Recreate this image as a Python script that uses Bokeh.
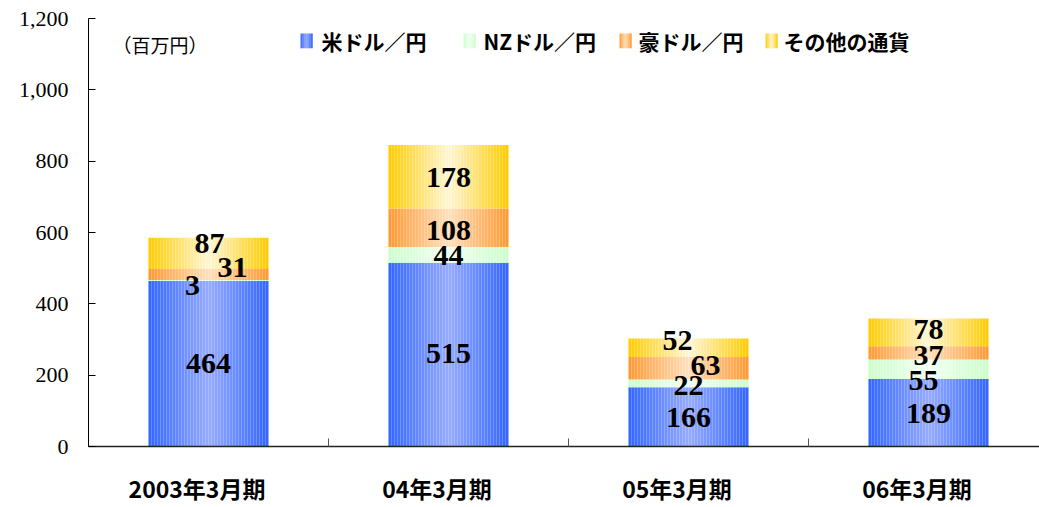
import numpy as np
from bokeh.plotting import figure
from bokeh.models import FixedTicker, NumeralTickFormatter, Range1d, ColumnDataSource
from bokeh.core.properties import value
from bokeh.embed import file_html
from bokeh.resources import INLINE

# ---------------- data ----------------
periods = ["2003年3月期", "04年3月期", "05年3月期", "06年3月期"]
series_names = ["米ドル／円", "NZドル／円", "豪ドル／円", "その他の通貨"]
usd = [464, 515, 166, 189]
nzd = [3, 44, 22, 55]
aud = [31, 108, 63, 37]
other = [87, 178, 52, 78]
unit_label = "（百万円）"
y_ticks = [0, 200, 400, 600, 800, 1000, 1200]

# ---------------- styles ----------------
edge_colors = [(51, 102, 255), (204, 255, 204), (255, 153, 51), (255, 204, 0)]
center_colors = [(150, 172, 255), (242, 255, 242), (255, 224, 188), (255, 246, 214)]
# label nudges in pixels (screen, y down)
label_dx = [[0, 0, 0, 0], [-16, 0, 0, -5], [24, 0, 17, 0], [1, 0, -11, 0]]
label_dy = [[0, -1, 1, 1], [5, 1, 2, 11], [-7, 3, -3, 3], [-10, 1, -7, -3]]

W, H = 1039, 507
LEFT, TOP, BOTTOM = 88, 18, 58
FRAME_W = W - LEFT
FRAME_H = H - TOP - BOTTOM
PX_PER_CAT = 240.0
X0 = -0.5
X1 = X0 + FRAME_W / PX_PER_CAT
Y1 = 1200.0
px_per_y = FRAME_H / Y1


def ix(cx):  # canvas x pixel -> data x
    return X0 + (cx - LEFT) / PX_PER_CAT


def iy(cy):  # canvas y pixel -> data y
    return (TOP + FRAME_H - cy) / px_per_y


def grad(i, n, s):
    t = 1 - abs(2 * (i + 0.5) / n - 1)
    e, c = edge_colors[s], center_colors[s]
    r, g, b = (int(round(e[k] + (c[k] - e[k]) * t)) for k in range(3))
    return "#%02x%02x%02x" % (r, g, b)


p = figure(width=W, height=H, output_backend="svg", toolbar_location=None,
           x_range=Range1d(X0, X1), y_range=Range1d(0, Y1),
           min_border_left=LEFT, min_border_right=0, min_border_top=TOP,
           min_border_bottom=BOTTOM)
p.outline_line_color = None
p.xgrid.grid_line_color = None
p.ygrid.grid_line_color = None
p.background_fill_color = "white"
p.border_fill_color = "white"

series = [usd, nzd, aud, other]
xs = np.arange(len(periods), dtype=float)
bar_w = 0.5
N = 40
bottoms = np.zeros(len(periods))
label_x, label_y, label_t, label_xo, label_yo = [], [], [], [], []
for s, vals in enumerate(series):
    vals = np.array(vals, dtype=float)
    tops = bottoms + vals
    for i in range(N):
        off = -bar_w / 2 + (i + 0.5) * bar_w / N
        p.vbar(x=xs + off, width=bar_w / N * 1.02, bottom=bottoms, top=tops,
               fill_color=grad(i, N, s), line_color=None)
    for k in range(len(periods)):
        label_x.append(xs[k])
        label_y.append((bottoms[k] + tops[k]) / 2)
        label_t.append(str(int(vals[k])))
        label_xo.append(label_dx[s][k])
        label_yo.append(label_dy[s][k])
    bottoms = tops

src = ColumnDataSource(dict(x=label_x, y=label_y, t=label_t, xo=label_xo, yo=label_yo))
p.text(x="x", y="y", text="t", x_offset="xo", y_offset="yo", source=src,
       text_font=value("Liberation Serif"), text_font_style="bold",
       text_font_size="30px", text_align="center", text_baseline="middle",
       text_color="black")

# legend (manual, gradient swatches)
sw_left = [300, 463, 619, 765]
txt_left = [321, 483, 638, 783]
sw_w, sw_top, sw_bot = 12, 33, 48
M = 6
for s in range(4):
    for i in range(M):
        l = sw_left[s] + i * sw_w / M
        p.quad(left=[ix(l)], right=[ix(l + sw_w / M + 0.3)], top=[iy(sw_top)], bottom=[iy(sw_bot)],
               fill_color=grad(i, M, s), line_color=None)
p.text(x=[ix(v) for v in txt_left], y=[iy(41)] * 4, text=series_names,
       text_font=value("Noto Sans CJK JP"), text_font_style="bold",
       text_font_size="21px", text_align="left", text_baseline="middle", text_color="black")
p.text(x=[ix(112)], y=[iy(44)], text=[unit_label],
       text_font=value("Noto Sans CJK JP"), text_font_size="19px",
       text_align="left", text_baseline="middle", text_color="black")

# axes
ya = p.yaxis[0]
ya.ticker = FixedTicker(ticks=y_ticks)
ya.formatter = NumeralTickFormatter(format="0,0")
ya.major_label_text_font = "Liberation Serif"
ya.major_label_text_font_size = "22px"
ya.major_label_text_color = "black"
ya.major_label_standoff = 20
ya.major_tick_in = 7
ya.major_tick_out = 0
ya.minor_tick_line_color = None
ya.axis_line_color = "black"
ya.major_tick_line_color = "black"

xa = p.xaxis[0]
xa.ticker = FixedTicker(ticks=list(xs), minor_ticks=[0.5, 1.5, 2.5])
pad = "\u3000"
xa.major_label_overrides = {float(k): periods[k] + pad for k in range(len(periods))}
xa.major_label_overrides.update({int(k): periods[k] + pad for k in range(len(periods))})
xa.major_label_text_font = "Noto Sans CJK JP"
xa.major_label_text_font_style = "bold"
xa.major_label_text_font_size = "23px"
xa.major_label_text_color = "black"
xa.major_label_standoff = 24
xa.major_tick_in = 0
xa.major_tick_out = 0
xa.minor_tick_in = 8
xa.minor_tick_out = 0
xa.minor_tick_line_color = "#555555"
xa.axis_line_color = "#222222"
xa.axis_line_width = 1.5

open("out.html", "w").write(file_html(p, INLINE))
